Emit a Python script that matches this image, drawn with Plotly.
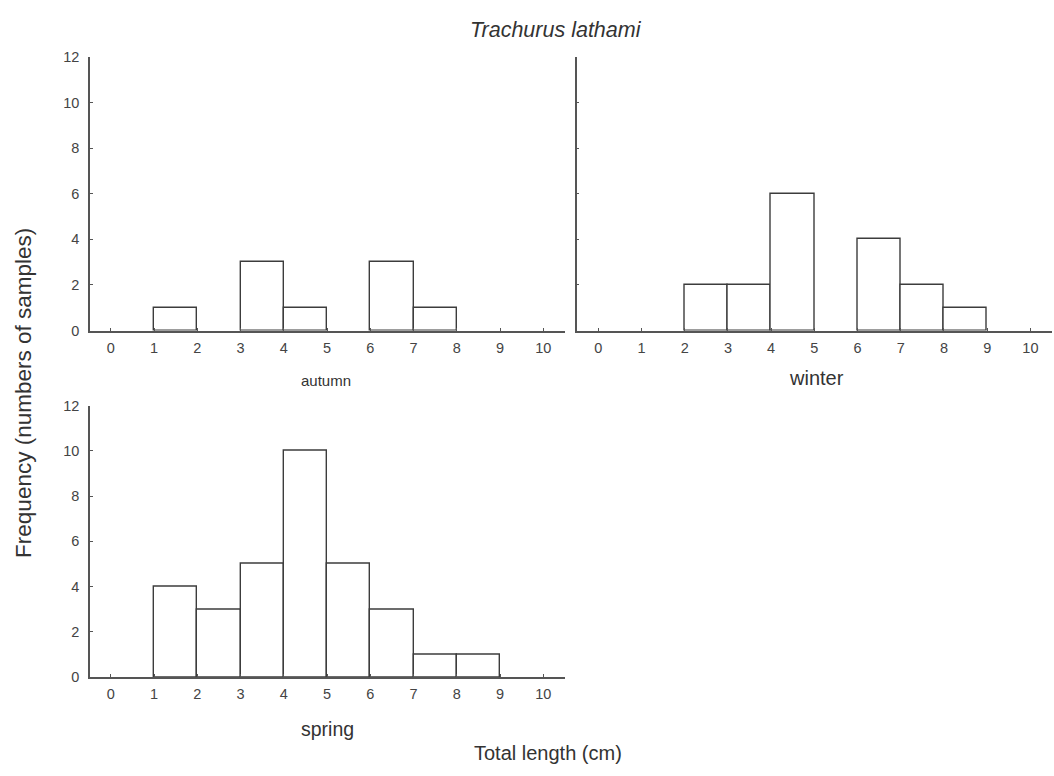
import plotly.graph_objects as go

bin_centers = [0.5, 1.5, 2.5, 3.5, 4.5, 5.5, 6.5, 7.5, 8.5, 9.5]
autumn = [0, 1, 0, 3, 1, 0, 3, 1, 0, 0]
winter = [0, 0, 2, 2, 6, 0, 4, 2, 1, 0]
spring = [0, 4, 3, 5, 10, 5, 3, 1, 1, 0]
x_ticks = list(range(0, 11))
y_ticks = [0, 2, 4, 6, 8, 10, 12]

W, H = 1054, 776
def px(x):
    return x / W
def py(y):
    return 1 - y / H

FONT = "Liberation Sans, Arial, sans-serif"

def bar(vals, xa, ya):
    return go.Bar(x=bin_centers, y=vals, xaxis=xa, yaxis=ya, width=1.0,
                  marker=dict(color="white",
                              line=dict(color="#3c3c3c",
                                        width=[0 if v == 0 else 1.4 for v in vals])),
                  showlegend=False, hoverinfo="x+y")

fig = go.Figure()
fig.add_trace(bar(autumn, "x", "y"))
fig.add_trace(bar(winter, "x2", "y2"))
fig.add_trace(bar(spring, "x3", "y3"))

font_ticks = dict(family=FONT, size=14.5, color="#444")
axis_common = dict(showline=True, linecolor="#555", linewidth=1.5, ticks="inside",
                   ticklen=3, tickwidth=1, tickcolor="#555", showgrid=False,
                   zeroline=False, mirror=False, tickfont=font_ticks, fixedrange=True)

def xaxis(domain, rng, anchor):
    return dict(domain=domain, range=rng, anchor=anchor, tickvals=x_ticks,
                ticklabelstandoff=3, **axis_common)

def yaxis(domain, anchor, labels=True):
    return dict(domain=domain, range=[0, 12], anchor=anchor, tickvals=y_ticks,
                showticklabels=labels, ticklabelstandoff=6, **axis_common)

top_dom = [py(329.3), py(50)]
bot_dom = [py(683.3), py(406)]
left_dom = [px(90), px(565)]
right_dom = [px(576.7), px(1052)]

fig.update_layout(
    width=W, height=H,
    margin=dict(l=0, r=0, t=0, b=0),
    paper_bgcolor="white", plot_bgcolor="white",
    bargap=0,
    xaxis=xaxis(left_dom, [-0.48, 10.5], "y"),
    yaxis=yaxis(top_dom, "x"),
    xaxis2=xaxis(right_dom, [-0.5, 10.5], "y2"),
    yaxis2=yaxis(top_dom, "x2", labels=False),
    xaxis3=xaxis(left_dom, [-0.48, 10.5], "y3"),
    yaxis3=yaxis(bot_dom, "x3"),
    font=dict(family=FONT, color="#333"),
)

def ann(text, x, y, size, italic=False, angle=0):
    fig.add_annotation(text=f"<i>{text}</i>" if italic else text,
                       x=px(x), y=py(y), xref="paper", yref="paper",
                       showarrow=False, textangle=angle,
                       font=dict(family=FONT, size=size, color="#333"),
                       xanchor="center", yanchor="middle")

ann("Trachurus lathami", 556, 22, 21.5, italic=True)
ann("autumn", 326, 380, 15)
ann("winter", 816, 378, 20)
ann("spring", 327, 736, 19.5)
ann("Total length (cm)", 548, 761, 20)
ann("Frequency (numbers of samples)", 24, 393, 22.5, angle=-90)

fig.write_html("out.html")
